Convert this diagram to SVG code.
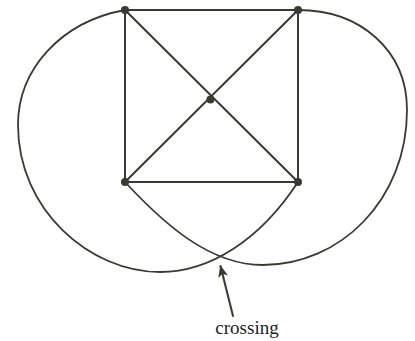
<svg xmlns="http://www.w3.org/2000/svg" width="415" height="341" viewBox="0 0 415 341">
<style>
.e{stroke:#3a3a35;stroke-width:2;fill:none;stroke-linecap:round}
.c{stroke:#3a3a35;stroke-width:1.8;fill:none}
.n{fill:#3a3a35}
.t{font-family:"Liberation Serif",serif;font-size:19px;fill:#222}
</style>
<defs>
<marker id="ah" viewBox="0 0 12 10" refX="11" refY="5" markerWidth="12" markerHeight="10" markerUnits="userSpaceOnUse" orient="auto">
<path d="M0,0 L12,5 L0,10 L3,5 Z" fill="#3a3a35"/>
</marker>
</defs>
<g id="connectors">
<line class="e" x1="125" y1="10" x2="298" y2="10"/>
<line class="e" x1="125" y1="10" x2="125" y2="182"/>
<line class="e" x1="298" y1="10" x2="298" y2="182"/>
<line class="e" x1="125" y1="182" x2="298" y2="182"/>
<line class="e" x1="125" y1="10" x2="298" y2="182"/>
<line class="e" x1="298" y1="10" x2="125" y2="182"/>
<path class="c" d="M125,10 C60,22 18,70 18,125 C18,210 90,272 160,272 C210,272 260,240 298,182"/>
<path class="c" d="M298,10 C360,10 407,50 407,110 C407,200 340,265 263,265 C210,265 165,225 125,182"/>
<line class="e" x1="233" y1="316" x2="220.5" y2="266" marker-end="url(#ah)"/>
</g>
<g id="n1"><circle class="n" cx="125" cy="10" r="4"/></g>
<g id="n2"><circle class="n" cx="298" cy="10" r="4"/></g>
<g id="n3"><circle class="n" cx="210.5" cy="99.5" r="4"/></g>
<g id="n4"><circle class="n" cx="125" cy="182" r="4"/></g>
<g id="n5"><circle class="n" cx="298" cy="182" r="4"/></g>
<g id="label"><text class="t" x="247" y="334" text-anchor="middle">crossing</text></g>
</svg>
